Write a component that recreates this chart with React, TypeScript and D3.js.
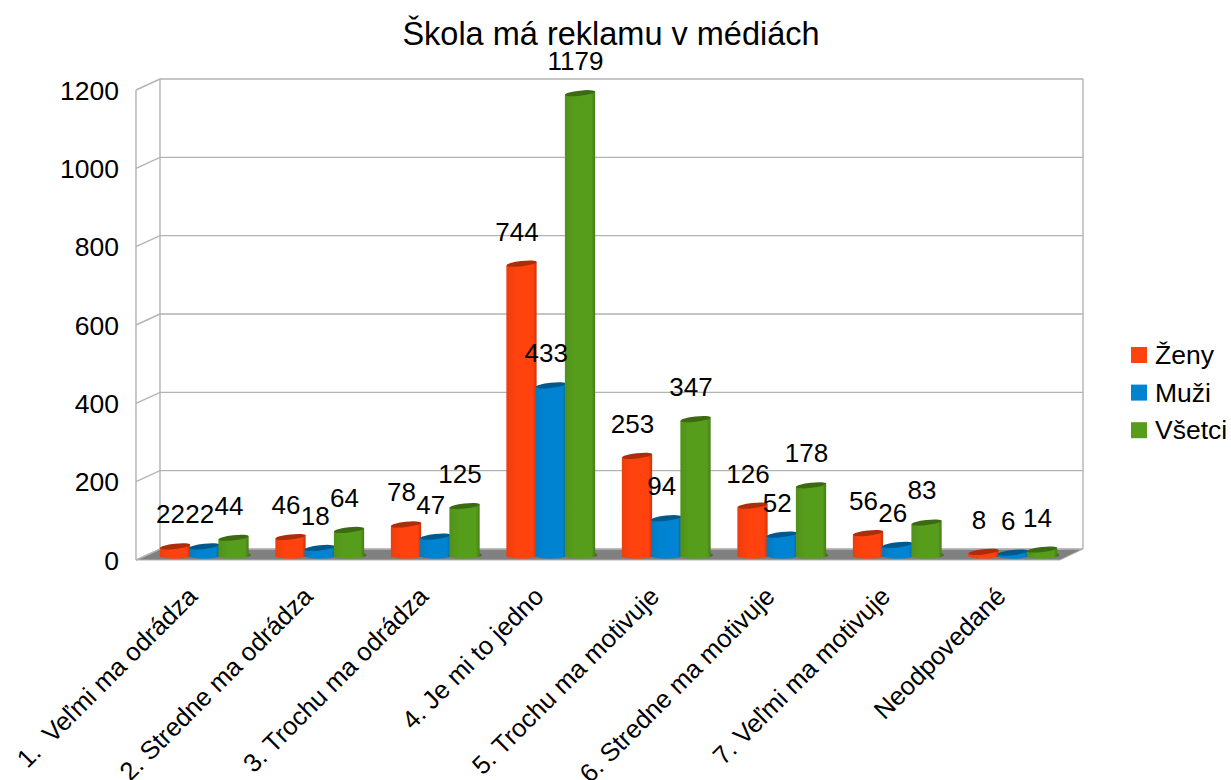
import React from "react";
import * as d3 from "d3";

const title = "Škola má reklamu v médiách";
const categories = ["1.  Veľmi ma odrádza", "2. Stredne ma odrádza", "3. Trochu ma odrádza", "4. Je mi to jedno", "5. Trochu ma motivuje", "6. Stredne ma motivuje", "7. Veľmi ma motivuje", "Neodpovedané"];
const seriesNames = ["Ženy", "Muži", "Všetci"];
const zeny = [22, 46, 78, 744, 253, 126, 56, 8];
const muzi = [22, 18, 47, 433, 94, 52, 26, 6];
const vsetci = [44, 64, 125, 1179, 347, 178, 83, 14];
const colors = ["#ff420e", "#0084d1", "#579d1c"];
const ticks = [0, 200, 400, 600, 800, 1000, 1200];

const FONT = "'Liberation Sans', Arial, sans-serif";
const W = 1231, H = 780;
const depthX = 24, depthY = 11;
const backL = 160, backR = 1083;
const y = d3.scaleLinear().domain([0, 1200]).range([549, 79]);
const x0 = d3.scaleBand<string>().domain(categories).range([146, 1070]).paddingInner(0.24).paddingOuter(0.12);
const x1 = d3.scaleBand<string>().domain(seriesNames).range([0, x0.bandwidth()]);
const barShift = 6;

function Cylinder({ x, w, v, color, id }: { x: number; w: number; v: number; color: string; id: string }) {
  const top = y(v) + barShift;
  const base = y(0) + barShift;
  const rx = w / 2, ry = 2.6;
  const cx = x + rx;
  const tilt = 1.8;
  const body = `M${x},${top + tilt} L${x},${base + tilt} A${rx},${ry + 0.6} 0 0 0 ${x + w},${base - tilt} L${x + w},${top - tilt} Z`;
  return (
    <g>
      <path d={body} fill={`url(#${id})`} />
      <ellipse cx={cx} cy={top} rx={rx} ry={ry} transform={`rotate(-6.5 ${cx} ${top})`} fill={d3.color(color)!.darker(1.1).toString()} />
    </g>
  );
}

export default function App() {
  const series = [zeny, muzi, vsetci];
  return (
    <svg width={W} height={H} style={{ position: "absolute", left: 0, top: 0, background: "#fff" }} fontFamily={FONT}>
      <defs>
        {colors.map((c, i) => (
          <linearGradient key={c} id={`g${i}`} x1="0" x2="1" y1="0" y2="0">
            <stop offset="0" stopColor={d3.color(c)!.darker(0.2).toString()} />
            <stop offset="0.3" stopColor={c} />
            <stop offset="0.82" stopColor={c} />
            <stop offset="1" stopColor={d3.color(c)!.darker(1.2).toString()} />
          </linearGradient>
        ))}
      </defs>
      <text x={611} y={45} textAnchor="middle" fontSize={32.5}>{title}</text>

      <polygon points={`${backL - depthX},${y(0) + depthY} ${backL},${y(0)} ${backR},${y(0)} ${backR - depthX + 1},${y(0) + depthY}`} fill="#808080" stroke="#b3b3b3" strokeWidth={1} />
      {ticks.map((t) => (
        <path key={t} d={`M${backL - depthX},${y(t) + depthY} L${backL},${y(t)} L${backR},${y(t)}`} fill="none" stroke="#b3b3b3" strokeWidth={1.4} />
      ))}
      <line x1={backL - depthX} x2={backL - depthX} y1={y(1200) + depthY} y2={y(0) + depthY} stroke="#b3b3b3" strokeWidth={1.4} />
      <line x1={backL} x2={backL} y1={y(1200)} y2={y(0)} stroke="#b3b3b3" strokeWidth={1.4} />
      <line x1={backR} x2={backR} y1={y(1200)} y2={y(0)} stroke="#b3b3b3" strokeWidth={1.4} />

      {ticks.map((t) => (
        <text key={t} x={119} y={y(t) + depthY + 9.5} textAnchor="end" fontSize={26.5}>{t}</text>
      ))}

      {categories.map((c, ci) => (
        <g key={c}>
          {seriesNames.map((s, si) => (
            <Cylinder key={s} id={`g${si}`} x={x0(c)! + x1(s)!} w={x1.bandwidth() + 1} v={series[si][ci]} color={colors[si]} />
          ))}
        </g>
      ))}

      {categories.map((c, ci) =>
        seriesNames.map((s, si) => (
          <text key={s} x={x0(c)! + x1(s)! + x1.bandwidth() / 2 - 4} y={y(series[si][ci]) + barShift - 23} textAnchor="middle" fontSize={26}>
            {series[si][ci]}
          </text>
        ))
      )}

      {categories.map((c) => {
        const ax = x0(c)! + x0.bandwidth() / 2 - 5;
        const ay = 598;
        return (
          <text key={c} transform={`translate(${ax},${ay}) rotate(-45)`} textAnchor="end" fontSize={25.6} xmlSpace="preserve">
            {c}
          </text>
        );
      })}

      {seriesNames.map((s, i) => (
        <g key={s}>
          <rect x={1131} y={347 + i * 37.6} width={16} height={16} fill={colors[i]} />
          <text x={1155} y={364 + i * 37.6} fontSize={26.5}>{s}</text>
        </g>
      ))}
    </svg>
  );
}
